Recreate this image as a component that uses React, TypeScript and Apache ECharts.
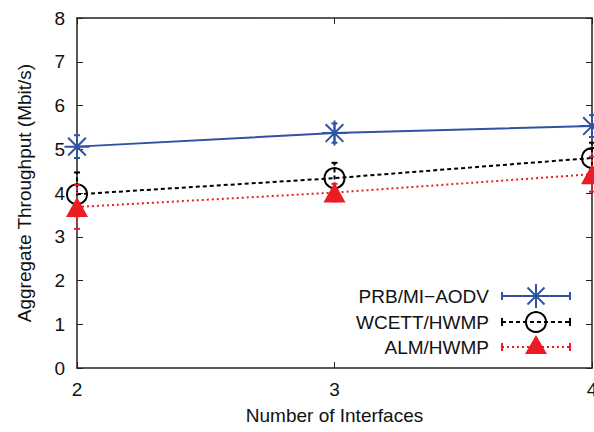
import React, { useEffect, useRef } from "react";
import * as echarts from "echarts";

const interfaces = [2, 3, 4];
const prbValues = [5.06, 5.37, 5.53];
const prbErr = [0.26, 0.22, 0.25];
const wcettValues = [3.97, 4.34, 4.8];
const wcettErr = [0.5, 0.35, 0.35];
const almValues = [3.68, 4.01, 4.43];
const almErr = [0.5, 0.2, 0.4];
const yTicks = [0, 1, 2, 3, 4, 5, 6, 7, 8];
const seriesNames = ["PRB/MI\u2212AODV", "WCETT/HWMP", "ALM/HWMP"];

const BLUE = "#2f52a3";
const RED = "#ec1c24";
const BLACK = "#000000";
const FONT = "Liberation Sans";
const FS = 19;
const TXT = "#111111";

const ASTERISK =
  "path://M0,-12L0,12M-12,0L12,0M-8.5,-8.5L8.5,8.5M-8.5,8.5L8.5,-8.5";

function errorSeries(name: string, vals: number[], errs: number[], color: string, dash: any, z: number) {
  return {
    type: "custom",
    name: name + " err",
    z,
    clip: false,
    silent: true,
    encode: { x: 0, y: [1, 2] },
    data: interfaces.map((x, i) => [x, vals[i] - errs[i], vals[i] + errs[i]]),
    renderItem: (_params: any, api: any) => {
      const x = api.value(0);
      const lo = api.coord([x, api.value(1)]);
      const hi = api.coord([x, api.value(2)]);
      const style = { stroke: color, lineWidth: 2, lineDash: dash, fill: "none" };
      return {
        type: "group",
        children: [
          { type: "line", shape: { x1: lo[0], y1: lo[1], x2: hi[0], y2: hi[1] }, style },
          { type: "line", shape: { x1: lo[0] - 3, y1: lo[1], x2: lo[0] + 3, y2: lo[1] }, style: { stroke: color, lineWidth: 2 } },
          { type: "line", shape: { x1: hi[0] - 3, y1: hi[1], x2: hi[0] + 3, y2: hi[1] }, style: { stroke: color, lineWidth: 2 } },
        ],
      };
    },
  };
}

function legendRow(y: number, label: string, color: string, dash: any, marker: any[]) {
  const x1 = 502;
  const x2 = 570;
  return [
    {
      type: "text",
      style: { text: label, x: 489, y, fill: TXT, font: `${FS}px "${FONT}"`, align: "right", verticalAlign: "middle" },
    },
    { type: "line", shape: { x1, y1: y, x2, y2: y }, style: { stroke: color, lineWidth: 2, lineDash: dash } },
    { type: "line", shape: { x1, y1: y - 4, x2: x1, y2: y + 4 }, style: { stroke: color, lineWidth: 2 } },
    { type: "line", shape: { x1: x2, y1: y - 4, x2, y2: y + 4 }, style: { stroke: color, lineWidth: 2 } },
    ...marker,
  ];
}

export default function App() {
  const ref = useRef<HTMLDivElement>(null);
  useEffect(() => {
    if (!ref.current) return;
    const chart = echarts.init(ref.current, null, { renderer: "svg" });
    const axisLine = { show: true, onZero: false, lineStyle: { color: "#222", width: 1.5 } };
    const axisTick = { show: true, inside: true, length: 6, lineStyle: { color: "#222", width: 1 } };
    const mx = 536;
    const rows = [296, 322, 347];
    const ast = (y: number) =>
      [
        [0, -12, 0, 12],
        [-12, 0, 12, 0],
        [-8.5, -8.5, 8.5, 8.5],
        [-8.5, 8.5, 8.5, -8.5],
      ].map((s) => ({
        type: "line",
        shape: { x1: mx + s[0], y1: y + s[1], x2: mx + s[2], y2: y + s[3] },
        style: { stroke: BLUE, lineWidth: 2 },
      }));
    const graphic: any[] = [
      ...legendRow(rows[0], seriesNames[0], BLUE, null, ast(rows[0])),
      ...legendRow(rows[1], seriesNames[1], BLACK, [4, 3], [
        { type: "circle", shape: { cx: mx, cy: rows[1], r: 10 }, style: { fill: "none", stroke: BLACK, lineWidth: 2 } },
      ]),
      ...legendRow(rows[2], seriesNames[2], RED, [2, 3], [
        {
          type: "polygon",
          shape: { points: [[mx, rows[2] - 12], [mx + 11, rows[2] + 7], [mx - 11, rows[2] + 7]] },
          style: { fill: RED },
        },
      ]),
    ];

    chart.setOption({
      animation: false,
      backgroundColor: "#ffffff",
      textStyle: { fontFamily: FONT },
      grid: { left: 77, right: 2, top: 18, bottom: 64, containLabel: false, outerBoundsMode: "none" },
      xAxis: [
        {
          type: "value",
          min: 2,
          max: 4,
          interval: 1,
          position: "bottom",
          name: "Number of Interfaces",
          nameLocation: "middle",
          nameGap: 38,
          nameTextStyle: { fontSize: FS, color: TXT, fontFamily: FONT },
          axisLine,
          axisTick,
          axisLabel: {
            fontSize: FS,
            color: TXT,
            margin: 12,
            fontFamily: FONT,
            showMaxLabel: true,
            showMinLabel: true,
            alignMaxLabel: "center",
            alignMinLabel: "center",
          },
          splitLine: { show: false },
        },
        {
          type: "value",
          min: 2,
          max: 4,
          interval: 1,
          position: "top",
          axisLine,
          axisTick,
          axisLabel: { show: false },
          splitLine: { show: false },
        },
      ],
      yAxis: [
        {
          type: "value",
          min: yTicks[0],
          max: yTicks[yTicks.length - 1],
          interval: 1,
          position: "left",
          name: "Aggregate Throughput (Mbit/s)",
          nameLocation: "middle",
          nameGap: 43,
          nameTextStyle: { fontSize: FS, color: TXT, fontFamily: FONT },
          axisLine,
          axisTick,
          axisLabel: { fontSize: FS, color: TXT, margin: 12, fontFamily: FONT },
          splitLine: { show: false },
        },
        {
          type: "value",
          min: yTicks[0],
          max: yTicks[yTicks.length - 1],
          interval: 1,
          position: "right",
          axisLine,
          axisTick,
          axisLabel: { show: false },
          splitLine: { show: false },
        },
      ],
      series: [
        errorSeries(seriesNames[0], prbValues, prbErr, BLUE, null, 2),
        {
          type: "line",
          name: seriesNames[0],
          data: interfaces.map((x, i) => [x, prbValues[i]]),
          symbol: ASTERISK,
          symbolSize: 25,
          showAllSymbol: true,
          lineStyle: { color: BLUE, width: 2 },
          itemStyle: { color: "rgba(0,0,0,0)", borderColor: BLUE, borderWidth: 2 },
          z: 3,
        },
        errorSeries(seriesNames[1], wcettValues, wcettErr, BLACK, [4, 3], 4),
        {
          type: "line",
          name: seriesNames[1],
          data: interfaces.map((x, i) => [x, wcettValues[i]]),
          symbol: "circle",
          symbolSize: 20,
          lineStyle: { color: BLACK, width: 2, type: [4, 3] },
          itemStyle: { color: "rgba(0,0,0,0)", borderColor: BLACK, borderWidth: 2 },
          z: 5,
        },
        errorSeries(seriesNames[2], almValues, almErr, RED, [2, 3], 6),
        {
          type: "line",
          name: seriesNames[2],
          data: interfaces.map((x, i) => [x, almValues[i]]),
          symbol: "triangle",
          symbolSize: [22, 20],
          lineStyle: { color: RED, width: 2, type: [2, 3] },
          itemStyle: { color: RED, borderWidth: 0 },
          z: 7,
        },
      ],
      graphic,
    });
    return () => chart.dispose();
  }, []);
  return <div ref={ref} style={{ position: "fixed", left: 0, top: 0, width: 594, height: 432 }} />;
}
